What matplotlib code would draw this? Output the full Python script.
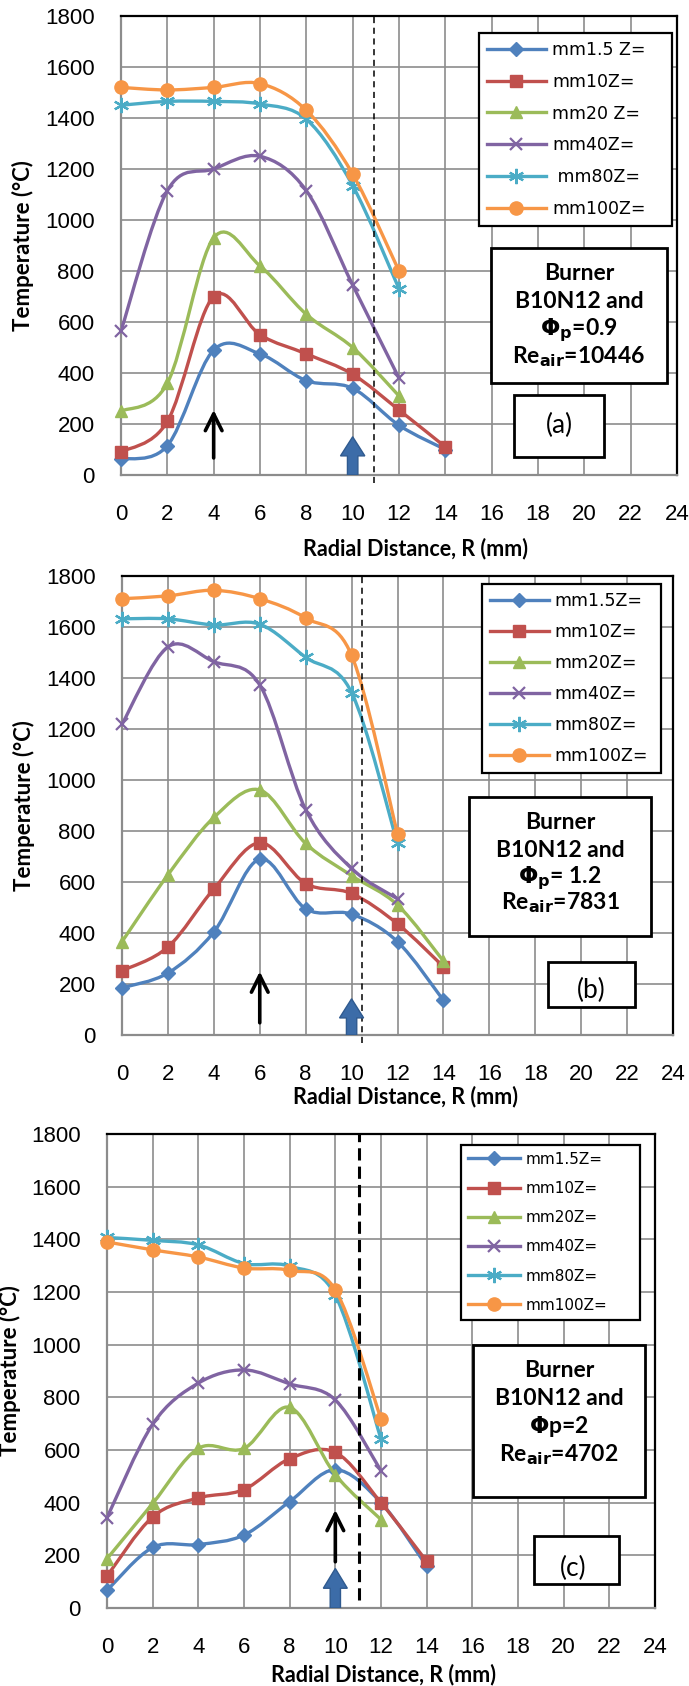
import numpy as np
import matplotlib
import matplotlib.pyplot as plt
from matplotlib.path import Path
from matplotlib.patches import PathPatch, Rectangle, FancyArrow
from matplotlib.lines import Line2D

plt.rcParams['mathtext.fontset'] = 'dejavusans'

# radial positions (mm)
r14 = [0, 2, 4, 6, 8, 10, 12, 14]
r12 = [0, 2, 4, 6, 8, 10, 12]

# panel (a): Phi_p = 0.9, Re_air = 10446
a_z1_5 = [62, 115, 490, 475, 370, 340, 195, 100]
a_z10 = [90, 210, 700, 550, 475, 395, 255, 110]
a_z20 = [250, 360, 930, 820, 630, 500, 310]
a_z40 = [565, 1115, 1200, 1250, 1115, 745, 380]
a_z80 = [1450, 1465, 1465, 1455, 1395, 1135, 730]
a_z100 = [1520, 1510, 1520, 1535, 1430, 1180, 800]

# panel (b): Phi_p = 1.2, Re_air = 7831
b_z1_5 = [185, 243, 404, 690, 495, 474, 366, 136]
b_z10 = [252, 345, 573, 754, 594, 555, 436, 268]
b_z20 = [366, 628, 853, 961, 751, 625, 510, 290]
b_z40 = [1219, 1522, 1464, 1373, 884, 653, 534]
b_z80 = [1632, 1632, 1608, 1611, 1481, 1343, 751]
b_z100 = [1711, 1722, 1744, 1711, 1635, 1489, 789]

# panel (c): Phi_p = 2, Re_air = 4702
c_z1_5 = [67, 230, 241, 277, 404, 525, 400, 159]
c_z10 = [121, 346, 418, 450, 567, 591, 400, 177]
c_z20 = [187, 397, 606, 606, 762, 506, 336]
c_z40 = [343, 698, 854, 904, 851, 790, 521]
c_z80 = [1407, 1396, 1379, 1308, 1298, 1187, 641]
c_z100 = [1390, 1360, 1333, 1291, 1282, 1208, 718]

labels_a = ['mm1.5 Z=', 'mm10Z=', 'mm20 Z=', 'mm40Z=', ' mm80Z=', 'mm100Z=']
labels_bc = ['mm1.5Z=', 'mm10Z=', 'mm20Z=', 'mm40Z=', 'mm80Z=', 'mm100Z=']

colors = ['#4F81BD', '#C0504D', '#9BBB59', '#8064A2', '#4BACC6', '#F79646']
markers = ['D', 's', '^', 'x', (6, 2, 0), 'o']
msizes = [7, 9, 9, 9, 11, 9.5]

tick_font = 'Liberation Sans'
lab_font = 'Lato'


def smooth(xs, ys):
    # Excel-style smoothed line (Catmull-Rom as cubic Bezier)
    p = np.column_stack([xs, ys]).astype(float)
    n = len(p)
    verts = [p[0]]
    codes = [Path.MOVETO]
    for i in range(n - 1):
        p0 = p[i - 1] if i > 0 else p[i]
        p3 = p[i + 2] if i + 2 < n else p[i + 1]
        verts += [p[i] + (p[i + 1] - p0) / 6, p[i + 1] - (p3 - p[i]) / 6, p[i + 1]]
        codes += [Path.CURVE4] * 3
    return Path(verts, codes)


def panel(ax, series, labels, leg, leg_fs, leg_ls, box, lines, tag, dash, arrows, xlab_pos):
    for k, (xs, ys) in enumerate(series):
        c = colors[k]
        ax.add_patch(PathPatch(smooth(xs, ys), fc='none', ec=c, lw=2.4,
                               capstyle='round', joinstyle='round', zorder=3 + k))
        mew = 1.6 if markers[k] in ('x', (6, 2, 0)) else 1
        ax.plot(xs, ys, ls='none', marker=markers[k], ms=msizes[k], color=c,
                mec=c, mew=mew, zorder=3 + k, clip_on=False)

    ax.set_xlim(0, 24)
    ax.set_ylim(0, 1800)
    ax.set_xticks(range(0, 25, 2))
    ax.set_yticks(range(0, 1801, 200))
    ax.grid(True, color='#8c8c8c', lw=1.2)
    ax.set_axisbelow(True)
    ax.tick_params(length=0, labelsize=16, pad=21)
    ax.tick_params(axis='y', pad=19)
    for t in ax.get_xticklabels() + ax.get_yticklabels():
        t.set_fontfamily(tick_font)
    for s in ['top', 'right']:
        ax.spines[s].set_color('black')
        ax.spines[s].set_linewidth(1.6)
    for s in ['left', 'bottom']:
        ax.spines[s].set_color('#8c8c8c')
        ax.spines[s].set_linewidth(1.6)

    ax.set_xlabel('Radial Distance, R (mm)', fontfamily=lab_font, fontweight='bold', fontsize=15.5)
    ax.set_ylabel('Temperature (°C)', fontfamily=lab_font, fontweight='bold', fontsize=16)
    ax.xaxis.set_label_coords(xlab_pos[0], xlab_pos[1])
    ax.yaxis.set_label_coords(-0.157, 0.5)

    handles = [Line2D([], [], color=colors[k], lw=2.4, marker=markers[k],
                      ms=msizes[k], mew=1.6 if k in (3, 4) else 1) for k in range(6)]
    x0, x1, y0, y1 = leg
    lg = ax.legend(handles, labels, loc='upper left', bbox_to_anchor=(x0, y0, x1 - x0, y1 - y0),
                   mode='expand', borderaxespad=0, fancybox=False, framealpha=1,
                   edgecolor='black', prop={'family': 'DejaVu Sans', 'size': leg_fs},
                   handlelength=3.4, handletextpad=0.35, labelspacing=leg_ls, borderpad=0.45)
    lg.get_frame().set_linewidth(1.6)
    lg.set_zorder(20)

    bx0, bx1, by0, by1 = box
    ax.add_patch(Rectangle((bx0, by0), bx1 - bx0, by1 - by0, transform=ax.transAxes,
                           fc='white', ec='black', lw=2.0, zorder=21))
    cx = (bx0 + bx1) / 2
    for txt, yy in lines:
        ax.text(cx, yy, txt, transform=ax.transAxes, ha='center', va='center',
                fontfamily=lab_font, fontweight='bold', fontsize=16.5, zorder=22)

    tx0, tx1, ty0, ty1, tlabel, tcx, tcy = tag
    ax.add_patch(Rectangle((tx0, ty0), tx1 - tx0, ty1 - ty0, transform=ax.transAxes,
                           fc='white', ec='black', lw=2.0, zorder=21))
    ax.text(tcx, tcy, tlabel, transform=ax.transAxes, ha='center', va='center',
            fontfamily=lab_font, fontsize=19, zorder=22)

    dx, dlw, dpat, dlow = dash
    ax.plot([dx, dx], [dlow, 1800], color='black', lw=dlw, ls=(0, dpat), zorder=15, clip_on=False)

    (kx, ky0, ky1), (bxx, byy) = arrows
    ax.annotate('', xy=(kx, ky1), xytext=(kx, ky0),
                arrowprops=dict(arrowstyle='->', color='black', lw=2.6, mutation_scale=30),
                zorder=16)
    ax.add_patch(FancyArrow(bxx, 0, 0, byy, width=0.45, head_width=1.05, head_length=75,
                            length_includes_head=True, fc='#3c6ca8', ec='#2f5a8f', lw=1,
                            zorder=16))


fig = plt.figure(figsize=(6.89, 16.86), dpi=100)

ax_a = fig.add_axes([121 / 689, 1 - 475 / 1686, 556 / 689, 459 / 1686])
ax_b = fig.add_axes([122 / 689, 1 - 1035 / 1686, 551 / 689, 459 / 1686])
ax_c = fig.add_axes([107 / 689, 1 - 1608 / 1686, 548 / 689, 474 / 1686])

panel(ax_a,
      [(r14, a_z1_5), (r14, a_z10), (r12, a_z20), (r12, a_z40), (r12, a_z80), (r12, a_z100)],
      labels_a, (0.644, 0.991, 0.516, 0.963), 12.5, 0.8,
      (0.665, 0.982, 0.200, 0.495),
      [('Burner', 0.438), ('B10N12 and', 0.377), (r'$\mathbf{\Phi_p}$=0.9', 0.316),
       (r'Re$_{\mathbf{air}}$=10446', 0.257)],
      (0.707, 0.869, 0.039, 0.174, '(a)', 0.788, 0.107),
      (10.9, 1.1, (4, 3), -30),
      ((4, 56, 266), (10, 150)),
      (0.529, -0.137))

panel(ax_b,
      [(r14, b_z1_5), (r14, b_z10), (r14, b_z20), (r12, b_z40), (r12, b_z80), (r12, b_z100)],
      labels_bc, (0.653, 0.978, 0.547, 0.983), 12.5, 0.75,
      (0.630, 0.960, 0.216, 0.5185),
      [('Burner', 0.462), ('B10N12 and', 0.403), (r'$\mathbf{\Phi_p}$= 1.2', 0.342),
       (r'Re$_{\mathbf{air}}$=7831', 0.2876)],
      (0.773, 0.931, 0.061, 0.159, '(b)', 0.851, 0.098),
      (10.45, 1.1, (4, 3), -30),
      ((6, 37, 260), (10, 142)),
      (0.514, -0.111))

panel(ax_c,
      [(r14, c_z1_5), (r14, c_z10), (r12, c_z20), (r12, c_z40), (r12, c_z80), (r12, c_z100)],
      labels_bc, (0.646, 0.973, 0.572, 0.977), 11, 0.93,
      (0.668, 0.982, 0.234, 0.555),
      [('Burner', 0.502), ('B10N12 and', 0.443), (r'$\mathbf{\Phi}$p=2', 0.382),
       (r'Re$_{\mathbf{air}}$=4702', 0.323)],
      (0.779, 0.934, 0.0506, 0.152, '(c)', 0.850, 0.084),
      (11.05, 2.2, (4, 2), 30),
      ((10, 165, 383), (10, 150)),
      (0.505, -0.118))

fig.savefig('out.png', dpi=100)
